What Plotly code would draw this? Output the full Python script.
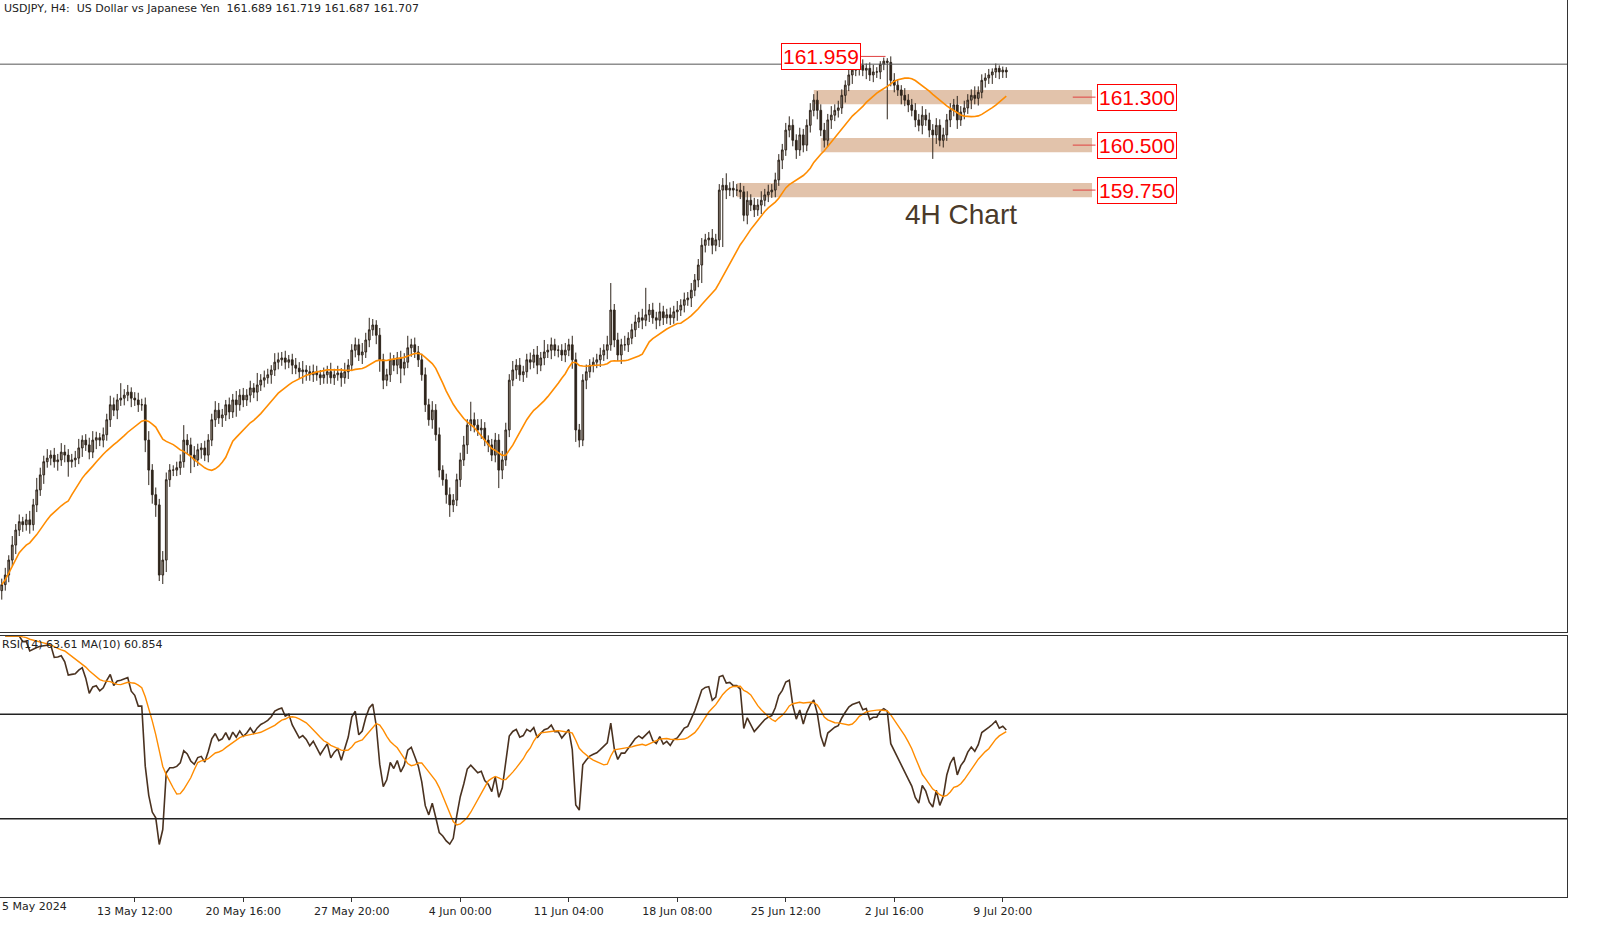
import numpy as np
import pandas as pd
import plotly.graph_objects as go

closes = [
153.17,153.33,153.58,153.83,154.08,154.22,154.17,154.25,154.17,154.50,
154.75,155.00,155.22,155.28,155.33,155.22,155.25,155.38,155.33,155.22,
155.25,155.28,155.45,155.58,155.50,155.38,155.58,155.62,155.58,155.67,
155.92,156.17,156.08,156.25,156.28,156.33,156.38,156.28,156.25,156.17,
156.17,155.58,155.08,154.67,154.50,153.33,153.58,154.92,155.08,155.08,
155.12,155.22,155.58,155.50,155.33,155.25,155.42,155.45,155.33,155.58,
155.92,156.08,155.95,156.00,156.17,156.05,156.25,156.17,156.33,156.25,
156.33,156.45,156.38,156.50,156.58,156.62,156.67,156.75,156.88,156.92,
156.95,156.88,156.92,156.83,156.78,156.72,156.75,156.72,156.67,156.72,
156.67,156.62,156.67,156.72,156.62,156.67,156.70,156.62,156.72,156.83,
157.08,157.17,157.00,157.05,157.25,157.42,157.50,157.33,156.92,156.58,
156.67,156.92,156.83,156.95,156.78,156.88,157.12,157.17,157.05,156.92,
156.67,156.17,155.92,156.08,155.67,155.08,154.92,154.67,154.50,154.58,
154.92,155.25,155.50,155.83,155.92,155.83,155.75,155.78,155.58,155.50,
155.33,155.58,155.08,155.25,155.75,156.58,156.75,156.83,156.67,156.72,
156.92,156.88,157.00,156.83,156.95,157.05,157.08,157.17,157.08,157.08,
157.00,157.08,157.17,156.92,155.75,155.58,156.58,156.72,156.83,156.88,
156.92,157.00,157.08,157.17,157.75,157.25,157.00,157.17,157.17,157.28,
157.42,157.55,157.62,157.58,157.67,157.75,157.62,157.58,157.72,157.62,
157.67,157.62,157.72,157.75,157.83,157.92,157.95,158.08,158.25,158.50,
158.83,158.92,158.95,158.83,158.92,159.75,159.83,159.75,159.78,159.75,
159.75,159.72,159.33,159.58,159.50,159.42,159.50,159.58,159.67,159.72,
159.75,159.92,160.25,160.42,160.75,160.83,160.58,160.42,160.67,160.50,
160.83,161.08,161.25,161.08,160.75,160.58,160.92,161.00,161.08,161.12,
161.33,161.50,161.67,161.75,161.78,161.83,161.75,161.78,161.67,161.72,
161.72,161.85,161.90,161.88,161.58,161.50,161.42,161.33,161.25,161.17,
161.08,160.92,160.83,161.00,160.92,160.75,160.67,160.83,160.58,160.67,
160.92,161.08,161.17,160.92,161.05,161.12,161.25,161.33,161.28,161.38,
161.58,161.62,161.67,161.72,161.78,161.72,161.75,161.72]

upper_wick = [
0.10,0.12,0.08,0.15,0.10,0.12,0.08,0.10,0.15,0.10,
0.20,0.12,0.10,0.15,0.08,0.12,0.10,0.15,0.12,0.10,
0.10,0.12,0.15,0.08,0.10,0.12,0.15,0.10,0.08,0.12,
0.10,0.15,0.12,0.10,0.25,0.10,0.12,0.08,0.10,0.12,
0.10,0.12,0.15,0.10,0.12,0.10,0.15,0.12,0.10,0.08,
0.10,0.12,0.25,0.10,0.12,0.15,0.10,0.08,0.12,0.10,
0.10,0.15,0.12,0.10,0.08,0.12,0.10,0.15,0.10,0.12,
0.10,0.12,0.08,0.20,0.10,0.12,0.10,0.08,0.15,0.12,
0.10,0.12,0.08,0.10,0.12,0.10,0.15,0.08,0.10,0.12,
0.10,0.08,0.12,0.10,0.15,0.10,0.12,0.08,0.15,0.10,
0.10,0.12,0.10,0.15,0.12,0.20,0.10,0.08,0.12,0.10,
0.10,0.12,0.08,0.10,0.12,0.15,0.20,0.10,0.12,0.10,
0.10,0.12,0.10,0.15,0.10,0.12,0.08,0.10,0.12,0.10,
0.10,0.12,0.15,0.10,0.30,0.12,0.10,0.15,0.10,0.08,
0.10,0.12,0.10,0.15,0.12,0.10,0.15,0.10,0.12,0.10,
0.10,0.12,0.10,0.15,0.10,0.20,0.10,0.12,0.10,0.08,
0.10,0.12,0.10,0.15,0.12,0.10,0.10,0.12,0.10,0.08,
0.10,0.12,0.10,0.15,0.45,0.10,0.12,0.10,0.15,0.10,
0.10,0.12,0.10,0.15,0.45,0.10,0.12,0.10,0.15,0.10,
0.10,0.12,0.10,0.15,0.10,0.12,0.10,0.12,0.10,0.10,
0.12,0.10,0.10,0.15,0.10,0.10,0.12,0.20,0.10,0.12,
0.10,0.12,0.10,0.15,0.10,0.12,0.10,0.15,0.10,0.12,
0.10,0.12,0.10,0.10,0.12,0.15,0.10,0.10,0.12,0.10,
0.10,0.12,0.10,0.15,0.10,0.12,0.10,0.15,0.10,0.12,
0.10,0.08,0.10,0.08,0.10,0.06,0.10,0.08,0.10,0.12,
0.08,0.05,0.06,0.05,0.10,0.12,0.10,0.08,0.12,0.10,
0.10,0.12,0.10,0.15,0.10,0.12,0.10,0.12,0.10,0.12,
0.10,0.12,0.10,0.15,0.10,0.12,0.10,0.10,0.15,0.10,
0.10,0.08,0.10,0.06,0.08,0.05,0.06,0.05]

lower_wick = [
0.15,0.10,0.12,0.10,0.15,0.10,0.12,0.10,0.15,0.10,
0.12,0.10,0.15,0.10,0.12,0.10,0.15,0.10,0.12,0.25,
0.10,0.12,0.10,0.15,0.10,0.12,0.10,0.15,0.10,0.12,
0.10,0.12,0.10,0.15,0.10,0.12,0.10,0.15,0.10,0.12,
0.10,0.20,0.25,0.15,0.20,0.10,0.15,0.20,0.12,0.10,
0.10,0.12,0.10,0.15,0.30,0.12,0.10,0.15,0.10,0.12,
0.10,0.12,0.10,0.15,0.10,0.12,0.10,0.20,0.10,0.12,
0.10,0.12,0.10,0.15,0.10,0.12,0.10,0.15,0.10,0.12,
0.10,0.12,0.10,0.15,0.10,0.12,0.20,0.15,0.10,0.12,
0.10,0.12,0.10,0.15,0.10,0.12,0.10,0.15,0.10,0.12,
0.10,0.12,0.10,0.15,0.10,0.12,0.10,0.15,0.20,0.15,
0.10,0.12,0.10,0.15,0.25,0.12,0.10,0.15,0.10,0.12,
0.10,0.12,0.10,0.15,0.10,0.12,0.10,0.15,0.20,0.12,
0.10,0.12,0.10,0.15,0.10,0.12,0.10,0.15,0.10,0.12,
0.10,0.12,0.30,0.15,0.10,0.12,0.10,0.15,0.10,0.12,
0.10,0.12,0.10,0.15,0.10,0.12,0.10,0.15,0.10,0.12,
0.10,0.12,0.10,0.15,0.20,0.12,0.10,0.15,0.10,0.12,
0.10,0.12,0.10,0.15,0.10,0.12,0.10,0.15,0.10,0.12,
0.10,0.12,0.10,0.15,0.10,0.12,0.10,0.15,0.10,0.12,
0.10,0.12,0.10,0.15,0.10,0.12,0.10,0.15,0.10,0.12,
0.30,0.12,0.10,0.15,0.10,0.12,0.95,0.15,0.10,0.12,
0.10,0.12,0.10,0.15,0.10,0.12,0.10,0.15,0.10,0.12,
0.10,0.12,0.10,0.15,0.10,0.12,0.10,0.15,0.10,0.12,
0.10,0.12,0.10,0.15,0.10,0.12,0.10,0.15,0.10,0.12,
0.10,0.12,0.10,0.15,0.10,0.12,0.10,0.15,0.10,0.12,
0.10,0.12,0.10,0.95,0.10,0.12,0.10,0.15,0.10,0.12,
0.10,0.12,0.10,0.15,0.10,0.12,0.40,0.15,0.10,0.12,
0.10,0.12,0.10,0.15,0.10,0.12,0.10,0.15,0.10,0.12,
0.10,0.12,0.10,0.15,0.10,0.12,0.10,0.10]

tick_pos = [7, 38, 69, 100, 131, 162, 193, 224, 255, 286]
tick_text = ["5 May 2024", "13 May 12:00", "20 May 16:00", "27 May 20:00", "4 Jun 00:00",
             "11 Jun 04:00", "18 Jun 08:00", "25 Jun 12:00", "2 Jul 16:00", "9 Jul 20:00"]

levels = [161.300, 160.500, 159.750]
level_start = [232, 234, 210]
high_label = 161.959

c = pd.Series(closes)
opens = [closes[0] - 0.1] + closes[:-1]
highs = [max(o, cl) + w for o, cl, w in zip(opens, closes, upper_wick)]
lows = [min(o, cl) - w for o, cl, w in zip(opens, closes, lower_wick)]
ma20 = c.rolling(20, min_periods=1).mean()

d = c.diff()
gain = d.clip(lower=0).ewm(alpha=1/14, adjust=False).mean()
loss = (-d.clip(upper=0)).ewm(alpha=1/14, adjust=False).mean()
rsi = 100 - 100 / (1 + gain / loss)
rsi_ma = rsi.rolling(10, min_periods=1).mean()

x = list(range(len(closes)))
W, H = 1613, 942
XR = [-0.5, 447.2]
fig = go.Figure()
fig.add_trace(go.Candlestick(x=x, open=opens, high=highs, low=lows, close=closes,
    increasing=dict(fillcolor="#9a8f84", line=dict(color="#2e241b", width=1)),
    decreasing=dict(fillcolor="#2e241b", line=dict(color="#2e241b", width=1)),
    whiskerwidth=0, xaxis="x", yaxis="y", showlegend=False))
fig.add_trace(go.Scatter(x=x, y=ma20, mode="lines", line=dict(color="#ff8c00", width=1.6),
                         xaxis="x", yaxis="y", showlegend=False))
fig.add_trace(go.Scatter(x=x, y=rsi, mode="lines", line=dict(color="#4a3220", width=1.6),
                         xaxis="x2", yaxis="y2", showlegend=False))
fig.add_trace(go.Scatter(x=x, y=rsi_ma, mode="lines", line=dict(color="#ff8c00", width=1.4),
                         xaxis="x2", yaxis="y2", showlegend=False))

shapes = []
for lv, s in zip(levels, level_start):
    shapes.append(dict(type="rect", xref="x", yref="y", x0=s, x1=311.5, y0=lv - 0.12, y1=lv + 0.12,
                       fillcolor="rgba(214,170,135,0.7)", line=dict(width=0), layer="below"))
    shapes.append(dict(type="line", xref="x", yref="y", x0=306, x1=312.5, y0=lv, y1=lv,
                       line=dict(color="#e04040", width=1)))
shapes.append(dict(type="line", xref="x", yref="y", x0=-1, x1=448, y0=closes[-1] + 0.13, y1=closes[-1] + 0.13,
                   line=dict(color="#555555", width=1)))
shapes.append(dict(type="line", xref="x", yref="y", x0=245.5, x1=252.5, y0=high_label + 0.02, y1=high_label + 0.02,
                   line=dict(color="#e04040", width=1)))
for v in [70, 30]:
    shapes.append(dict(type="line", xref="x2", yref="y2", x0=-1, x1=448, y0=v, y1=v,
                       line=dict(color="#222222", width=1.5)))

ann = [dict(text="USDJPY, H4:  US Dollar vs Japanese Yen  161.689 161.719 161.687 161.707",
            xref="paper", yref="paper", x=0.001, y=1 - 9 / H, xanchor="left", yanchor="middle",
            showarrow=False, font=dict(size=11, color="#222", family="DejaVu Sans"))]
ann.append(dict(text="RSI(14) 63.61 MA(10) 60.854", xref="paper", yref="paper", x=0.0,
                y=1 - 644 / H, xanchor="left", yanchor="middle", showarrow=False,
                font=dict(size=11, color="#222", family="DejaVu Sans")))
ann.append(dict(text=tick_text[0], xref="paper", yref="paper", x=0.0, y=1 - 906 / H,
                xanchor="left", yanchor="middle", showarrow=False,
                font=dict(size=11, color="#222", family="DejaVu Sans")))
for lv in levels:
    ann.append(dict(text=f"{lv:.3f}", xref="x", yref="y", x=313, y=lv, xanchor="left", yanchor="middle",
                    showarrow=False, font=dict(size=21, color="#ff0000", family="Liberation Sans"),
                    bordercolor="#ff0000", borderwidth=1, borderpad=1, bgcolor="white"))
ann.append(dict(text=f"{high_label:.3f}", xref="x", yref="y", x=245.5, y=high_label + 0.02, xanchor="right",
                yanchor="middle", showarrow=False, font=dict(size=21, color="#ff0000", family="Liberation Sans"),
                bordercolor="#ff0000", borderwidth=1, borderpad=1, bgcolor="white"))
ann.append(dict(text="4H Chart", xref="x", yref="y", x=274, y=159.35, xanchor="center", yanchor="middle",
                showarrow=False, font=dict(size=28, color="#4a3a2a", family="Liberation Sans")))

fig.update_layout(
    width=W, height=H, margin=dict(l=0, r=0, t=0, b=0), plot_bgcolor="white", paper_bgcolor="white",
    shapes=shapes, annotations=ann,
    xaxis=dict(domain=[0, 1567 / W], range=XR, showticklabels=False, showgrid=False, zeroline=False,
               rangeslider=dict(visible=False), showline=True, mirror=True, linecolor="#333"),
    yaxis=dict(domain=[1 - 632 / H, 1], range=[152.38, 162.92], showticklabels=False, showgrid=False,
               zeroline=False, showline=True, mirror=True, linecolor="#333"),
    xaxis2=dict(domain=[0, 1567 / W], range=XR, anchor="y2", tickvals=tick_pos[1:], ticktext=tick_text[1:],
                ticks="outside", ticklen=4, tickcolor="#333", showgrid=False, zeroline=False,
                showline=True, mirror=True, linecolor="#333",
                tickfont=dict(size=11, color="#222", family="DejaVu Sans")),
    yaxis2=dict(domain=[1 - 897 / H, 1 - 636 / H], range=[0, 100], showticklabels=False, showgrid=False,
                zeroline=False, showline=True, mirror=True, linecolor="#333"),
)
fig.write_html("out.html", config={"displayModeBar": False},
               post_script="document.body.style.margin='0';document.body.style.overflow='hidden';")
